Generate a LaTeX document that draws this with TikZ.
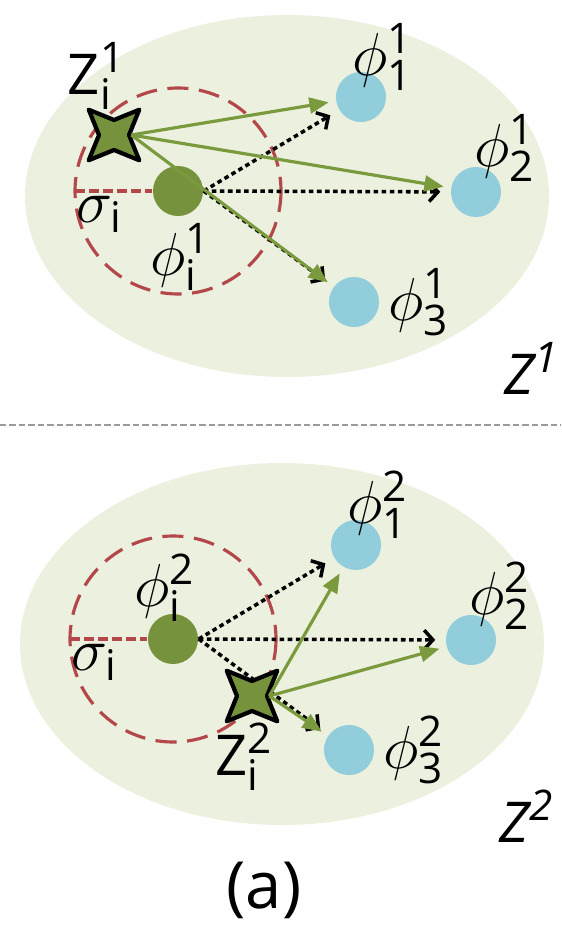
\documentclass[tikz,border=0pt]{standalone}
\usepackage{fontspec}
\setmainfont{Open Sans}
\usepackage{tikz}
\usetikzlibrary{arrows.meta,shapes.geometric}
\DeclareMathSizes{16}{16}{12}{9}
\definecolor{fsCloud}{HTML}{EBF1DE}
\definecolor{fsMoss}{HTML}{76923C}
\definecolor{fsLeaf}{HTML}{7A9A3D}
\definecolor{fsSky}{HTML}{92CDDC}
\definecolor{fsBrick}{HTML}{B3474A}
\definecolor{fsRule}{HTML}{9A9A9A}
\tikzset{
  fs diagram/.style={x=0.01cm, y=-0.01cm, line cap=butt, line join=round},
  fs cloud/.style={fill=fsCloud},
  fs ring/.style={draw=fsBrick, line width=0.9pt, dash pattern=on 6pt off 3pt},
  fs radius/.style={draw=fsBrick, line width=1pt, dash pattern=on 2.8pt off 1.2pt},
  fs anchor/.style={circle, fill=fsMoss, minimum size=0.5cm, inner sep=0pt},
  fs proto/.style={circle, fill=fsSky, minimum size=0.5cm, inner sep=0pt},
  fs star/.style={star, star points=4, star point ratio=0.42, minimum size=0.3cm,
    inner sep=0pt, fill=fsMoss, draw=black, line width=1.2pt},
  fs pull/.style={-{Triangle[length=5.5pt,width=4.5pt]}, draw=fsLeaf, fill=fsLeaf,
    line width=0.9pt, shorten >=0.07cm},
  fs push/.style={-{Straight Barb[length=2.5pt,width=5.5pt]}, draw=black,
    line width=1pt, dash pattern=on 1.3pt off 1pt, shorten >=0.1cm},
  fs lbl/.style={inner sep=0pt, font=\fontsize{16}{19}\selectfont},
  fs split/.style={draw=fsRule, line width=0.8pt, dash pattern=on 1.8pt off 0.9pt}
}
\begin{document}
\begin{tikzpicture}[fs diagram]
\useasboundingbox (0,0) rectangle (561,925);
\foreach \k/\dx/\dy in {1/0/0,2/-5/448}{
  \begin{scope}[shift={(\dx,\dy)}]
  \fill[fs cloud] (287,196) ellipse (262 and 181);
  \draw[fs ring] (178,191) circle (103);
  \coordinate (rl\k) at (75,191);
  \node[fs anchor] (ctr\k) at (178,191) {};
  \draw[fs radius] (rl\k) -- (ctr\k.west);
  \node[fs proto] (ph\k1) at (361,97) {};
  \node[fs proto] (ph\k2) at (476,192) {};
  \node[fs proto] (ph\k3) at (354,302) {};
  \node[fs lbl] (lp\k1) at (383,57) {$\phi^{\mathrm{\k}}_{\mathrm{1}}$};
  \node[fs lbl] (lp\k2) at (505,148) {$\phi^{\mathrm{\k}}_{\mathrm{2}}$};
  \node[fs lbl] (lp\k3) at (419,302) {$\phi^{\mathrm{\k}}_{\mathrm{3}}$};
  \node[fs lbl] (sg\k) at (100,214) {$\sigma_{\mathrm{i}}$};
  \node[fs lbl] (sp\k) at (532,368) {$\mathit{Z}^{\mathit{\k}}$};
  \foreach \j in {1,2,3} \draw[fs push] (ctr\k.east) -- (ph\k\j);
  \end{scope}
}
\node[fs lbl] (lc1) at (181,257) {$\phi^{\mathrm{1}}_{\mathrm{i}}$};
\node[fs lbl] (lc2) at (165,588) {$\phi^{\mathrm{2}}_{\mathrm{i}}$};
\node[fs star] (zi1) at (114,135) {};
\node[fs star] (zi2) at (252,696) {};
\node[fs lbl] (lz1) at (97,76) {$\mathrm{Z}^{\mathrm{1}}_{\mathrm{i}}$};
\node[fs lbl] (lz2) at (244,757) {$\mathrm{Z}^{\mathrm{2}}_{\mathrm{i}}$};
\foreach \k in {1,2}{
  \foreach \j in {1,2,3} \draw[fs pull] (zi\k.east) -- (ph\k\j);
}
\draw[fs split] (0,425) -- (561,425);
\node[fs lbl, font=\fontsize{18.5}{22}\selectfont] (cap) at (264,890) {(a)};
\end{tikzpicture}
\end{document}
